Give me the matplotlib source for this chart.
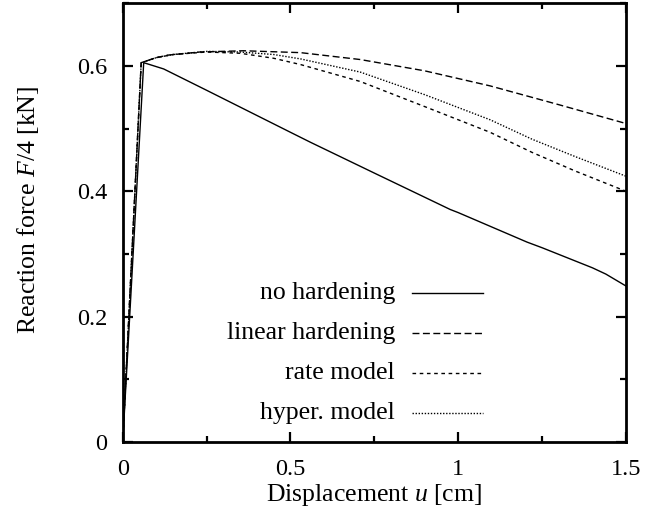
"""Reaction force vs displacement for four hardening models."""
import matplotlib
matplotlib.use("Agg")
import matplotlib.pyplot as plt
from matplotlib.ticker import MultipleLocator

plt.rcParams["font.family"] = ["Liberation Serif", "DejaVu Serif"]
plt.rcParams["mathtext.fontset"] = "custom"
plt.rcParams["mathtext.rm"] = "Liberation Serif"
plt.rcParams["mathtext.it"] = "Liberation Serif:italic"

# values: displacement u [cm], force F/4 [kN]
u_none = [0.0, 0.0625, 0.122, 0.25, 0.5, 0.56, 0.75, 0.976, 1.0, 1.205, 1.25, 1.4, 1.44, 1.5]
f_none = [0.0, 0.605, 0.595, 0.561, 0.494, 0.478, 0.429, 0.371, 0.366, 0.319, 0.31, 0.278, 0.268, 0.249]

u_linear = [0.0, 0.055, 0.1, 0.134, 0.23, 0.36, 0.53, 0.708, 0.9, 1.095, 1.3, 1.5]
f_linear = [0.0, 0.605, 0.613, 0.617, 0.622, 0.624, 0.621, 0.610, 0.592, 0.568, 0.538, 0.508]

u_rate = [0.0, 0.055, 0.1, 0.15, 0.25, 0.35, 0.45, 0.53, 0.708, 0.9, 1.095, 1.22, 1.35, 1.5]
f_rate = [0.0, 0.605, 0.613, 0.618, 0.622, 0.620, 0.612, 0.602, 0.575, 0.535, 0.494, 0.462, 0.432, 0.400]

u_hyper = [0.0, 0.055, 0.1, 0.15, 0.25, 0.35, 0.45, 0.53, 0.708, 0.9, 1.095, 1.22, 1.35, 1.5]
f_hyper = [0.0, 0.605, 0.613, 0.618, 0.623, 0.622, 0.618, 0.611, 0.590, 0.554, 0.514, 0.483, 0.455, 0.424]

labels = ["no hardening", "linear hardening", "rate model", "hyper. model"]

fig = plt.figure(figsize=(6.46, 5.13), dpi=100)
ax = fig.add_axes([0.19, 0.138, 0.779, 0.856])

styles = [
    dict(linestyle="-"),
    dict(linestyle=(0, (5.0, 2.5))),
    dict(linestyle=(0, (2.6, 2.6))),
    dict(linestyle=(0, (1.0, 1.2))),
]
series = [(u_none, f_none), (u_linear, f_linear), (u_rate, f_rate), (u_hyper, f_hyper)]

for (u, f), st in zip(series, styles):
    ax.plot(u, f, color="black", linewidth=1.0, **st)

ax.set_xlim(0, 1.5)
ax.set_ylim(0, 0.7)
ax.xaxis.set_major_locator(MultipleLocator(0.5))
ax.xaxis.set_minor_locator(MultipleLocator(0.25))
ax.yaxis.set_major_locator(MultipleLocator(0.2))
ax.yaxis.set_minor_locator(MultipleLocator(0.1))
ax.xaxis.set_major_formatter(lambda v, p: "%g" % v)
ax.yaxis.set_major_formatter(lambda v, p: "%g" % v)

fs = 18.5
ax.tick_params(which="both", direction="in", top=True, right=True, width=1.6, labelsize=17.5)
ax.tick_params(which="major", length=7)
ax.tick_params(which="minor", length=4)
ax.tick_params(axis="x", pad=12)
ax.tick_params(axis="y", pad=11)
for sp in ax.spines.values():
    sp.set_linewidth(2.0)

ax.set_xlabel(r"Displacement $u$ [cm]", fontsize=fs)
ax.set_ylabel(r"Reaction force $F/\mathit{4}$ [kN]", fontsize=fs)
ax.xaxis.set_label_coords(0.5, -0.091)
ax.yaxis.set_label_coords(-0.163, 0.528)

# gnuplot-style key: text right-aligned, sample line to the right
rows = [0.339, 0.248, 0.157, 0.066]
for lab, st, y in zip(labels, styles, rows):
    ax.text(0.541, y, lab, transform=ax.transAxes, ha="right", va="center", fontsize=fs)
    ax.plot([0.575, 0.716], [y, y], transform=ax.transAxes, color="black", linewidth=1.0, **st)

fig.savefig("out.png", dpi=100)
